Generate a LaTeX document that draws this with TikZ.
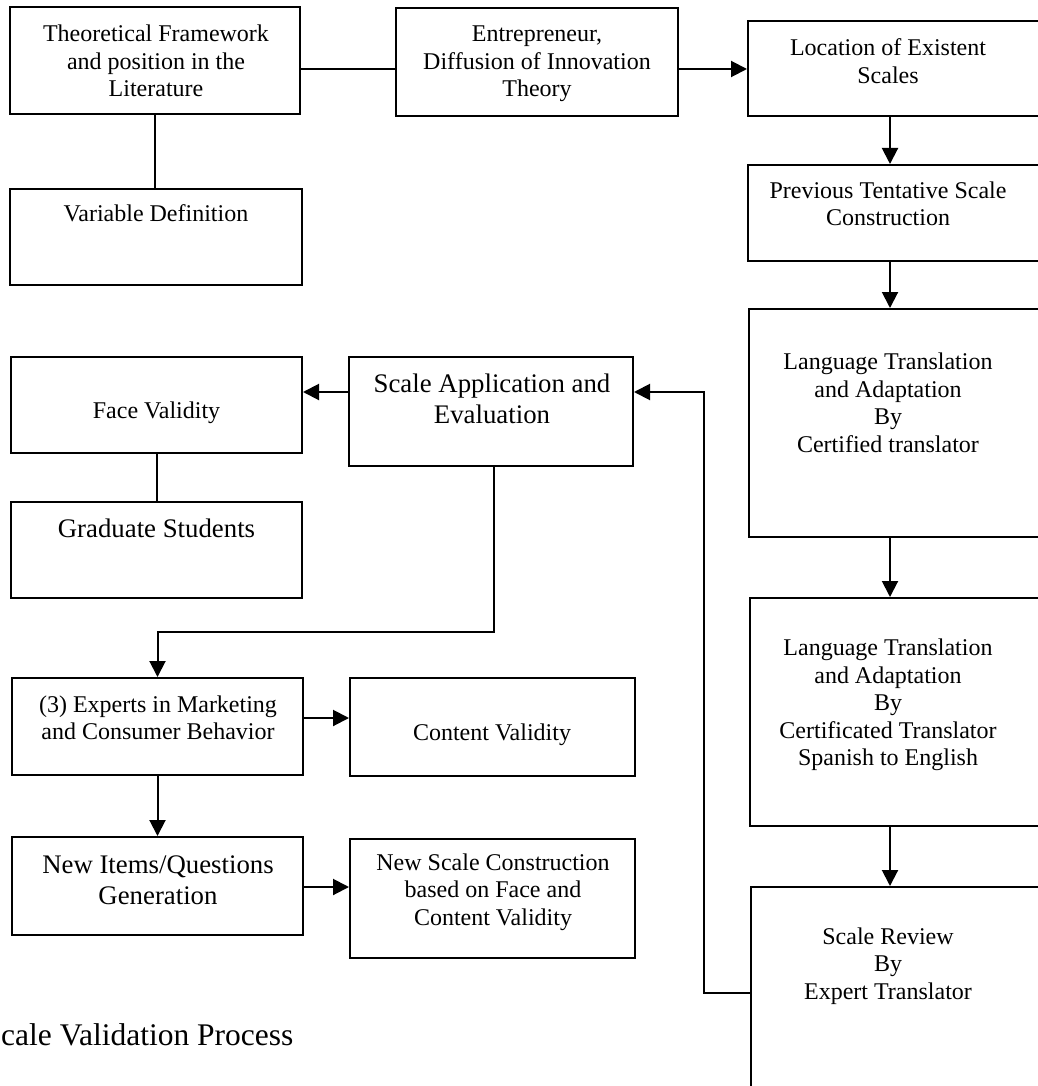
\documentclass[tikz,border=0pt]{standalone}
\usepackage{fontspec}
\setmainfont{Liberation Serif}
\usetikzlibrary{fit,arrows.meta}
\tikzset{
  box/.style={draw, line width=2pt, inner sep=0pt, rectangle},
  txt/.style={inner sep=0pt, align=center, font=\fontsize{24}{27.5}\selectfont},
  bigtxt/.style={inner sep=0pt, align=center, font=\fontsize{26.8}{31}\selectfont},
  link/.style={line width=2pt},
  arr/.style={line width=2pt, -{Triangle[length=16pt,width=16pt]}}
}
\begin{document}
\begin{tikzpicture}[x=1pt,y=-1pt]
\useasboundingbox (0,0) rectangle (1037,1086);
% boxes
\node[box, fit={(10,7) (300,114)}] (theo) {};
\node[box, fit={(10,189) (302,285)}] (var) {};
\node[box, fit={(396,8) (678,116)}] (ent) {};
\node[box, fit={(748,21) (1047,116)}] (loc) {};
\node[box, fit={(748,165) (1047,261)}] (prev) {};
\node[box, fit={(749,309) (1047,537)}] (lang1) {};
\node[box, fit={(750,598) (1047,826)}] (lang2) {};
\node[box, fit={(751,887) (1047,1100)}] (rev) {};
\node[box, fit={(349,357) (633,466)}] (app) {};
\node[box, fit={(11,357) (302,453)}] (face) {};
\node[box, fit={(11,502) (302,598)}] (grad) {};
\node[box, fit={(12,678) (303,775)}] (exp) {};
\node[box, fit={(350,678) (635,776)}] (cont) {};
\node[box, fit={(12,837) (303,935)}] (newi) {};
\node[box, fit={(350,839) (635,958)}] (news) {};
% texts
\node[txt] (theo-t) at (156,61) {Theoretical Framework\\and position in the\\Literature};
\node[txt] (var-t) at (156,213) {Variable Definition};
\node[txt] (ent-t) at (537,64) {Entrepreneur,\\Diffusion of Innovation\\Theory};
\node[txt] (loc-t) at (888,61) {Location of Existent\\Scales};
\node[txt] (prev-t) at (888,204) {Previous Tentative Scale\\Construction};
\node[txt] (lang1-t) at (888,403) {Language Translation\\and Adaptation\\By\\Certified translator};
\node[txt] (lang2-t) at (888,705) {Language Translation\\and Adaptation\\By\\Certificated Translator\\Spanish to English};
\node[txt] (rev-t) at (888,966) {Scale Review\\By\\Expert Translator};
\node[bigtxt] (app-t) at (492,399) {Scale Application and\\Evaluation};
\node[txt] (face-t) at (156.5,413) {Face Validity};
\node[bigtxt] (grad-t) at (156.5,528) {Graduate Students};
\node[txt] (exp-t) at (158,718) {(3) Experts in Marketing\\and Consumer Behavior};
\node[txt] (cont-t) at (492,735) {Content Validity};
\node[bigtxt] (newi-t) at (158,880) {New Items/Questions\\Generation};
\node[txt] (news-t) at (493,892) {New Scale Construction\\based on Face and\\Content Validity};
\node[inner sep=0pt, anchor=base west, font=\fontsize{31.5}{36}\selectfont] (cap) at (1,1045) {cale Validation Process};
% helper coordinates
\coordinate (ya) at (0,69);
\coordinate (xr) at (890,0);
\coordinate (fb) at (704,392);
\coordinate (yb) at (0,993);
\coordinate (xc) at (494,632);
\coordinate (yc) at (0,718);
\coordinate (yd) at (0,887);
% connectors
\draw[link] (theo.east |- ya) -- (ent.west |- ya);
\draw[arr] (ent.east |- ya) -- (loc.west |- ya);
\draw[link] (theo.south) -- (theo.south |- var.north);
\draw[arr] (loc.south -| xr) -- (prev.north -| xr);
\draw[arr] (prev.south -| xr) -- (lang1.north -| xr);
\draw[arr] (lang1.south -| xr) -- (lang2.north -| xr);
\draw[arr] (lang2.south -| xr) -- (rev.north -| xr);
\draw[arr] (rev.west |- yb) -| (fb) -- (app.east |- fb);
\draw[arr] (app.west |- fb) -- (face.east |- fb);
\draw[link] (face.south) -- (face.south |- grad.north);
\draw[arr] (app.south -| xc) -- (xc) -| (exp.north);
\draw[arr] (exp.east |- yc) -- (cont.west |- yc);
\draw[arr] (exp.south) -- (newi.north);
\draw[arr] (newi.east |- yd) -- (news.west |- yd);
\end{tikzpicture}
\end{document}
